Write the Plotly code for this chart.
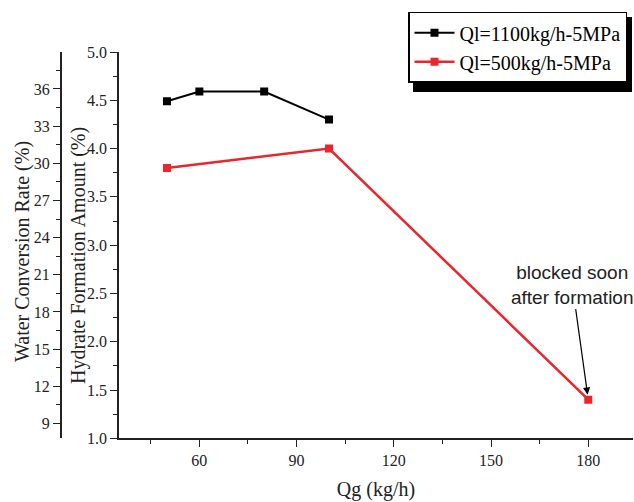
import plotly.graph_objects as go

# data
qg_1100 = [50, 60, 80, 100]
hfa_1100 = [4.49, 4.59, 4.59, 4.30]
qg_500 = [50, 100, 180]
hfa_500 = [3.80, 4.00, 1.40]

k_water = 7.8  # water conversion rate (%) per 1 % of hydrate formation amount
y_range = [1.0, 5.0]

W, H = 634, 502
serif = "Liberation Serif"

fig = go.Figure()
fig.add_trace(go.Scatter(x=qg_1100, y=hfa_1100, name="Ql=1100kg/h-5MPa",
                         mode="lines+markers",
                         line=dict(color="black", width=2),
                         marker=dict(symbol="square", size=8, color="black")))
fig.add_trace(go.Scatter(x=qg_500, y=hfa_500, name="Ql=500kg/h-5MPa",
                         mode="lines+markers",
                         line=dict(color="#e8262b", width=2.5),
                         marker=dict(symbol="square", size=8, color="#e8262b")))
# empty trace so the second (water conversion) axis gets drawn
fig.add_trace(go.Scatter(x=[None], y=[None], yaxis="y2", showlegend=False,
                         hoverinfo="skip"))

fig.add_annotation(x=180, y=1.40, text="blocked soon<br>after formation",
                   showarrow=True, ax=-16, ay=-115, standoff=5,
                   arrowhead=2, arrowsize=1.2, arrowwidth=1.2, arrowcolor="black",
                   font=dict(family="Liberation Sans", size=19, color="#222"))

# y axis titles
fig.add_annotation(x=78 / W, y=(H - 256) / H, xref="paper", yref="paper",
                   xanchor="center", yanchor="middle",
                   text="Hydrate Formation Amount (%)", textangle=-90,
                   showarrow=False, font=dict(family=serif, size=20, color="#222"))
fig.add_annotation(x=22 / W, y=(H - 252) / H, xref="paper", yref="paper",
                   xanchor="center", yanchor="middle",
                   text="Water Conversion Rate (%)", textangle=-90,
                   showarrow=False, font=dict(family=serif, size=20, color="#222"))

# legend drop shadow (legend box is drawn on top of it)
fig.add_shape(type="rect", xref="paper", yref="paper",
              x0=413 / W, x1=632 / W, y0=(H - 92) / H, y1=(H - 17) / H,
              fillcolor="black", line=dict(width=0), layer="above")

axis_font = dict(family=serif, size=16, color="#222")
common = dict(ticks="outside", ticklen=7, tickcolor="#222",
              showline=True, linecolor="#222", linewidth=1.5,
              showgrid=False, zeroline=False, tickfont=axis_font,
              automargin=False)
fig.update_layout(
    width=W, height=H,
    margin=dict(l=0, r=0, t=0, b=0, autoexpand=False),
    paper_bgcolor="white", plot_bgcolor="white",
    showlegend=True,
    legend=dict(x=408 / W, y=(H - 11.7) / H, xanchor="left", yanchor="top",
                bgcolor="white", bordercolor="black", borderwidth=1.5,
                font=dict(family=serif, size=20, color="black"),
                tracegroupgap=0, itemwidth=40),
    xaxis=dict(domain=[119 / W, 633 / W], range=[35.2, 193.8],
               tick0=0, dtick=30,
               minor=dict(dtick=15, ticks="outside", ticklen=4),
               title=dict(text="Qg (kg/h)", standoff=14,
                          font=dict(family=serif, size=20, color="#222")),
               **common),
    yaxis=dict(domain=[(H - 438.3) / H, (H - 52) / H], range=y_range,
               dtick=0.5, tickformat=".1f",
               minor=dict(dtick=0.25, ticks="outside", ticklen=4),
               **common),
    yaxis2=dict(overlaying="y", anchor="free", position=60.7 / W, side="left",
                range=[y_range[0] * k_water, y_range[1] * k_water - 0.02],
                tick0=0, dtick=3,
                minor=dict(dtick=1.5, ticks="outside", ticklen=4),
                **common),
)

fig.write_html("out.html", config={"displayModeBar": False},
               post_script="document.body.style.margin='0';")
